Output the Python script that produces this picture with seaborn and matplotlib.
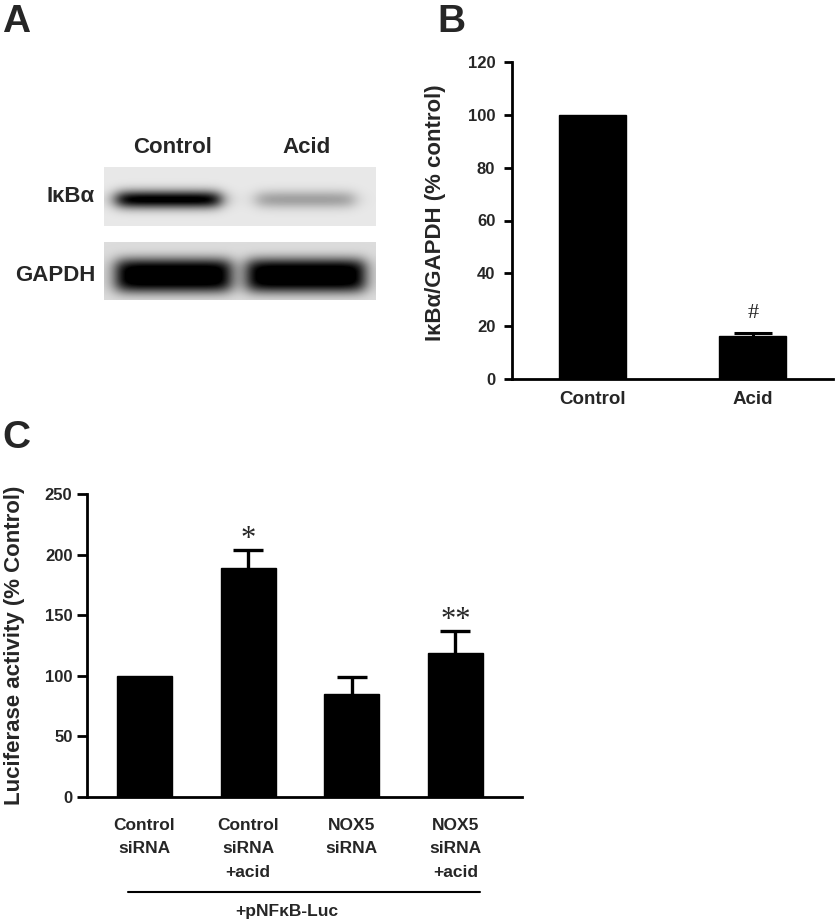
import numpy as np
import pandas as pd
import matplotlib
matplotlib.use("Agg")
import matplotlib.pyplot as plt
import seaborn as sns

# ---------------- data ----------------
blot_lanes = ["Control", "Acid"]
blot_proteins = ["IκBα", "GAPDH"]
ikba_intensity = [0.95, 0.28]
gapdh_intensity = [1.0, 1.0]

b_groups = ["Control", "Acid"]
b_values = [100.0, 16.2]
b_err = [0.0, 1.2]
b_marks = ["", "#"]

c_groups = ["Control\nsiRNA", "Control\nsiRNA\n+acid", "NOX5\nsiRNA", "NOX5\nsiRNA\n+acid"]
c_values = [100.0, 189.0, 85.0, 119.0]
c_err = [0.0, 14.5, 13.5, 18.0]
c_marks = ["", "*", "", "**"]
c_footer = "+pNFκB-Luc"

# ---------------- style ----------------
sns.set_style("ticks")
plt.rcParams["font.family"] = ["Liberation Sans", "DejaVu Sans"]
plt.rcParams["font.weight"] = "bold"
plt.rcParams["axes.labelweight"] = "bold"

W, H = 835, 923
fig = plt.figure(figsize=(W / 100, H / 100), dpi=100)


def ax_px(x0, x1, y0, y1):
    return fig.add_axes([x0 / W, 1 - y1 / H, (x1 - x0) / W, (y1 - y0) / H])


# ---------------- panel A : blot ----------------
def strip(width, height, bands, bg, thick, power, soft):
    xs = np.arange(width)[None, :]
    ys = np.arange(height)[:, None]
    img = np.full((height, width), bg, dtype=float)
    for (x0, x1, yc, inten) in bands:
        hx = 1 / (1 + np.exp(-(xs - x0) / soft)) * 1 / (1 + np.exp((xs - x1) / soft))
        vy = np.exp(-np.abs((ys - yc) / thick) ** power)
        img = img + inten * hx * vy
    return np.clip(img, 0, 1)


ax_a1 = ax_px(104, 376, 167, 226)
img1 = strip(272, 59,
             [(12, 116, 32, ikba_intensity[0]), (152, 250, 32, ikba_intensity[1])],
             bg=0.09, thick=9.0, power=2, soft=5.0)
ax_a1.imshow(img1, cmap="gray_r", vmin=0, vmax=1, aspect="auto", interpolation="bilinear")
ax_a1.set_axis_off()

ax_a2 = ax_px(104, 376, 242, 300)
img2 = strip(272, 58,
             [(12, 126, 33, gapdh_intensity[0]), (143, 260, 33, gapdh_intensity[1])],
             bg=0.14, thick=17.0, power=3, soft=5.0)
ax_a2.imshow(img2, cmap="gray_r", vmin=0, vmax=1, aspect="auto", interpolation="bilinear")
ax_a2.set_axis_off()

for lane, xc in zip(blot_lanes, [173, 307]):
    fig.text(xc / W, 1 - 153 / H, lane, ha="center", va="baseline",
             fontsize=16, fontweight="bold")
for prot, yc in zip(blot_proteins, [197, 275]):
    fig.text(95 / W, 1 - yc / H, prot, ha="right", va="center",
             fontsize=16, fontweight="bold")


def upper_errorbars(ax, values, errs, lw, cap):
    x = np.arange(len(values))
    e = np.array(errs)
    m = e > 0
    _, caplines, _ = ax.errorbar(x[m], np.array(values)[m],
                                 yerr=[np.zeros(m.sum()), e[m]], fmt="none",
                                 ecolor="black", elinewidth=lw, capsize=cap, capthick=lw)
    caplines[0].set_visible(False)


# ---------------- panel B ----------------
ax_b = ax_px(512, 833, 62, 379)
sns.barplot(x=b_groups, y=b_values, color="black", saturation=1, width=0.42,
            errorbar=None, edgecolor="black", ax=ax_b)
upper_errorbars(ax_b, b_values, b_err, 2.2, 13.5)
for i, m in enumerate(b_marks):
    if m:
        ax_b.annotate(m, (i, b_values[i] + b_err[i]), xytext=(0, 14),
                      textcoords="offset points", ha="center", va="center",
                      fontsize=16, fontweight="normal",
                      family=["Liberation Serif", "DejaVu Serif"])
ax_b.set_xlim(-0.5, 1.5)
ax_b.set_ylim(0, 120)
ax_b.set_yticks([0, 20, 40, 60, 80, 100, 120])
ax_b.set_ylabel("IκBα/GAPDH (% control)", fontsize=16, fontweight="bold")
ax_b.yaxis.set_label_coords(-0.206, 0.524)
sns.despine(ax=ax_b)
for s in ["left", "bottom"]:
    ax_b.spines[s].set_linewidth(2)
    ax_b.spines[s].set_color("black")
ax_b.tick_params(axis="y", length=6, width=2, pad=6, labelsize=12, color="black")
ax_b.tick_params(axis="x", length=0, pad=9, labelsize=13.5)
for t in ax_b.get_xticklabels() + ax_b.get_yticklabels():
    t.set_fontweight("bold")

# ---------------- panel C ----------------
ax_c = ax_px(87, 522, 494, 796.7)
sns.barplot(x=c_groups, y=c_values, color="black", saturation=1, width=0.53,
            errorbar=None, edgecolor="black", ax=ax_c)
upper_errorbars(ax_c, c_values, c_err, 2.4, 10.8)
for i, m in enumerate(c_marks):
    if m:
        ax_c.annotate(m, (i, c_values[i] + c_err[i]), xytext=(0, -3),
                      textcoords="offset points", ha="center", va="bottom",
                      fontsize=22, fontweight="normal",
                      family=["Liberation Serif", "DejaVu Serif"])
ax_c.set_xlim(-0.555, 3.644)
ax_c.set_ylim(0, 250)
ax_c.set_yticks([0, 50, 100, 150, 200, 250])
ax_c.set_ylabel("Luciferase activity (% Control)", fontsize=16, fontweight="bold")
ax_c.yaxis.set_label_coords(-0.1425, 0.4985)
sns.despine(ax=ax_c)
for s in ["left", "bottom"]:
    ax_c.spines[s].set_linewidth(2)
    ax_c.spines[s].set_color("black")
ax_c.tick_params(axis="y", length=7, width=2, pad=3.5, labelsize=12, color="black")
ax_c.tick_params(axis="x", length=0, pad=15, labelsize=12.5)
for t in ax_c.get_xticklabels():
    t.set_linespacing(1.72)
    t.set_fontweight("bold")
for t in ax_c.get_yticklabels():
    t.set_fontweight("bold")

ax_c.plot([-0.16, 3.24], [-0.314, -0.314], color="black", lw=1.5,
          transform=ax_c.get_xaxis_transform(), clip_on=False)
ax_c.text(1.375, -0.378, c_footer, transform=ax_c.get_xaxis_transform(),
          ha="center", va="center", fontsize=12.5, fontweight="bold")

# ---------------- panel letters ----------------
fig.text(2 / W, 1 - 32 / H, "A", fontsize=28, fontweight="bold", va="baseline")
fig.text(437 / W, 1 - 32 / H, "B", fontsize=28, fontweight="bold", va="baseline")
fig.text(2 / W, 1 - 448 / H, "C", fontsize=28, fontweight="bold", va="baseline")

fig.savefig("out.png", dpi=100)
